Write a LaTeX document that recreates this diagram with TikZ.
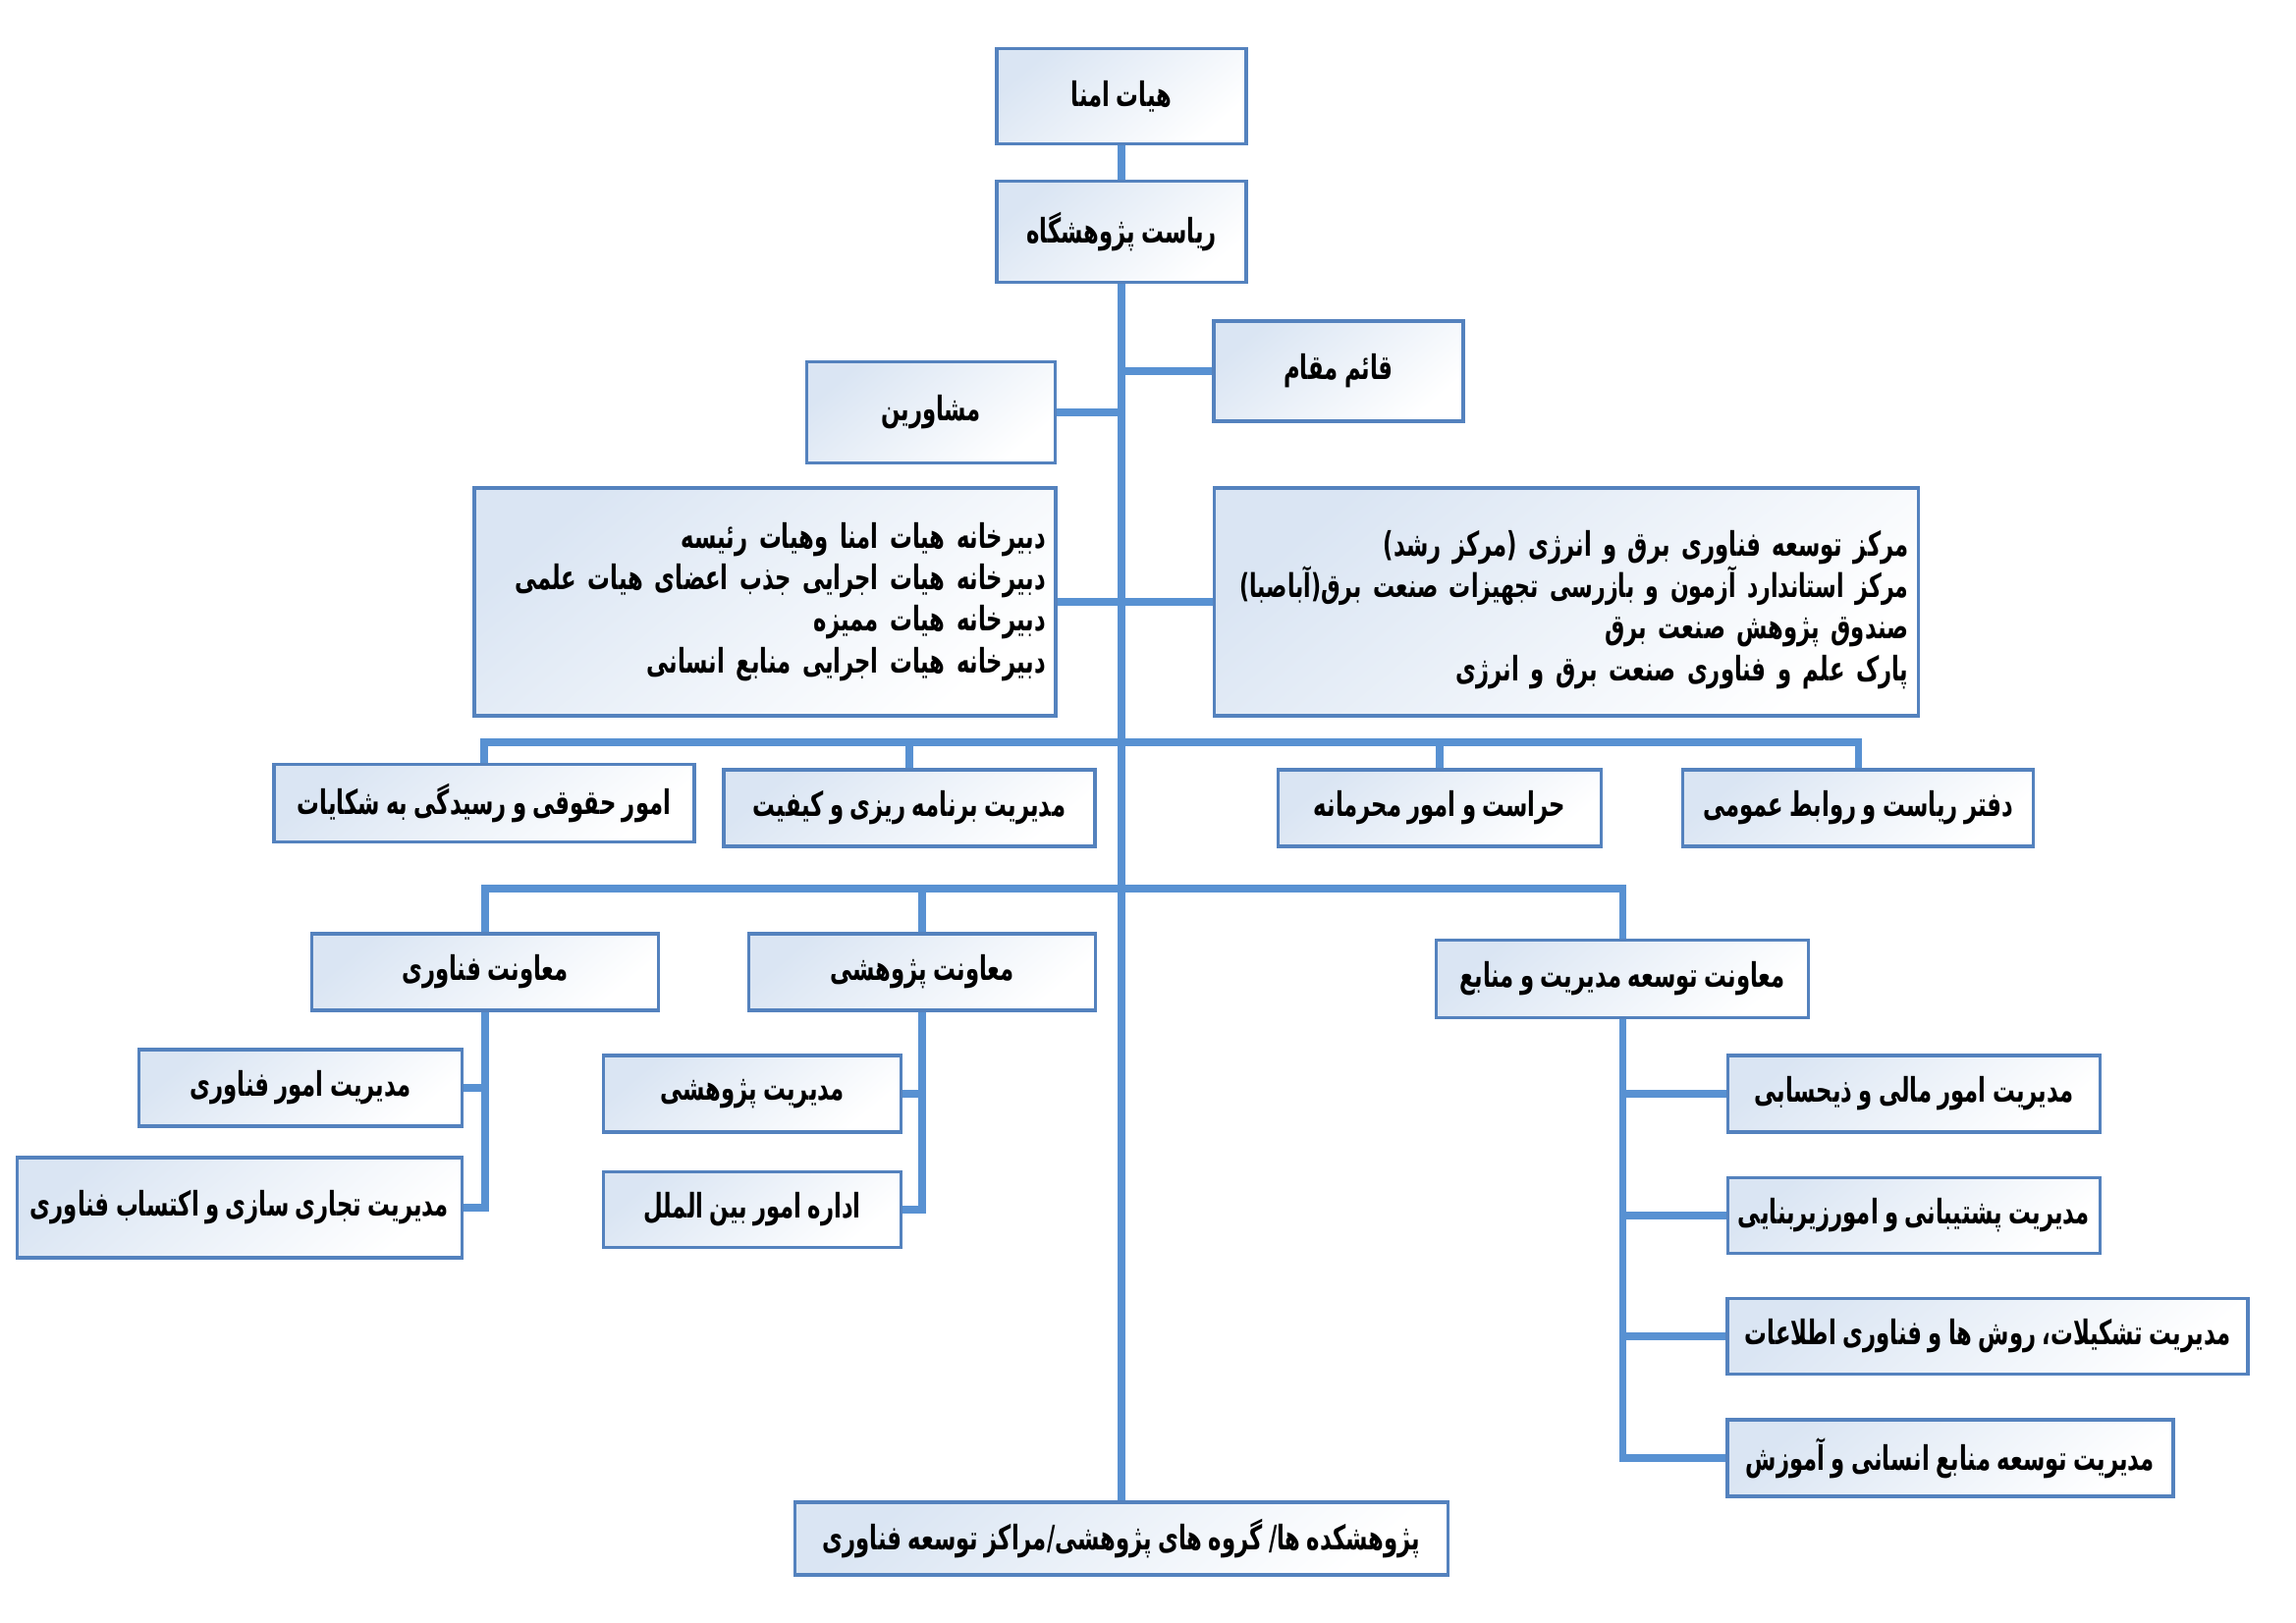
\documentclass[tikz,border=0pt]{standalone}
\usepackage{fontspec}
\newfontfamily\arabicfont[Script=Arabic, FakeStretch=0.66, WordSpace=0.8]{DejaVu Sans}
\TeXXeTstate=1
\usetikzlibrary{positioning, calc}
\definecolor{linkblue}{RGB}{88,145,210}
\definecolor{boxline}{RGB}{84,130,190}
\definecolor{boxfill}{RGB}{218,229,243}
\newcommand{\rtl}[1]{\beginR #1\endR}

\begin{document}
\begin{tikzpicture}[x=0.1mm, y=-0.1mm,
  unit/.style={draw=boxline, line width=1pt, top color=boxfill, bottom color=white, shading angle=40,
    inner sep=3pt, align=center, font=\arabicfont\bfseries\fontsize{9.8}{12}\selectfont},
  link/.style={draw=linkblue, line width=2pt}]
  \useasboundingbox (0,0) rectangle (2338,1653);

  \node[unit, minimum width=25.4mm, minimum height=9.7mm] (hayat) at (1142,98) {\rtl{هیات امنا}};
  \node[unit, minimum width=25.4mm, minimum height=10.3mm] (riasat) at (1142,236) {\rtl{ریاست پژوهشگاه}};
  \node[unit, minimum width=25.4mm, minimum height=10.2mm] (qaem) at (1363,378) {\rtl{قائم مقام}};
  \node[unit, minimum width=25.3mm, minimum height=10.3mm] (moshaverin) at (948,420) {\rtl{مشاورین}};
  \node[unit, text width=57.2mm, inner xsep=1mm, align=right, minimum height=23.2mm] (dabirkhane) at (779,613) {%
    \rtl{دبیرخانه هیات امنا وهیات رئیسه}\hspace*{0.6mm}\\
    \rtl{دبیرخانه هیات اجرایی جذب اعضای هیات علمی}\hspace*{0.6mm}\\
    \rtl{دبیرخانه هیات ممیزه}\\
    \rtl{دبیرخانه هیات اجرایی منابع انسانی}};
  \node[unit, text width=69.7mm, inner xsep=1mm, align=right, minimum height=23.2mm] (markaz) at (1595,613) {%
    \rule{0pt}{4.2mm}\rtl{مرکز توسعه فناوری برق و انرژی (مرکز رشد)}\\
    \makebox[69.7mm][r]{\fontsize{9.5}{12}\selectfont\rtl{مرکز استاندارد آزمون و بازرسی تجهیزات صنعت برق(آباصبا)}}\\
    \rtl{صندوق پژوهش صنعت برق}\\
    \rtl{پارک علم و فناوری صنعت برق و انرژی}};

  \node[unit, minimum width=42.8mm, minimum height=7.9mm] (hoqughi) at (493,818) {\rtl{امور حقوقی و رسیدگی به شکایات}};
  \node[unit, minimum width=37.8mm, minimum height=7.8mm] (barname) at (926,823) {\rtl{مدیریت برنامه ریزی و کیفیت}};
  \node[unit, minimum width=32.9mm, minimum height=7.8mm] (harasat) at (1466,823) {\rtl{حراست و امور محرمانه}};
  \node[unit, minimum width=35.7mm, minimum height=7.8mm] (daftar) at (1892,823) {\rtl{دفتر ریاست و روابط عمومی}};

  \node[unit, minimum width=35.3mm, minimum height=7.8mm] (fanavari) at (494,990) {\rtl{معاونت فناوری}};
  \node[unit, minimum width=35.3mm, minimum height=7.8mm] (pazhuheshi) at (939,990) {\rtl{معاونت پژوهشی}};
  \node[unit, minimum width=37.9mm, minimum height=7.9mm] (tosee) at (1652,997) {\rtl{معاونت توسعه مدیریت و منابع}};

  \node[unit, minimum width=32.9mm, minimum height=7.8mm] (mfan) at (306,1108) {\rtl{مدیریت امور فناوری}};
  \node[unit, minimum width=45.3mm, minimum height=10.2mm] (tejari) at (244,1230) {\rtl{مدیریت تجاری سازی و اکتساب فناوری}};
  \node[unit, minimum width=30.3mm, minimum height=7.8mm] (mpazh) at (766,1114) {\rtl{مدیریت پژوهشی}};
  \node[unit, minimum width=30.3mm, minimum height=7.7mm] (bein) at (766,1232) {\rtl{اداره امور بین الملل}};

  \node[unit, minimum width=37.9mm, minimum height=7.8mm] (mali) at (1949,1114) {\rtl{مدیریت امور مالی و ذیحسابی}};
  \node[unit, minimum width=37.9mm, minimum height=7.7mm] (poshtibani) at (1949,1238) {\rtl{مدیریت پشتیبانی و امورزیربنایی}};
  \node[unit, minimum width=53.0mm, minimum height=7.7mm] (tashkilat) at (2024,1361) {\rtl{مدیریت تشکیلات، روش ها و فناوری اطلاعات}};
  \node[unit, minimum width=45.4mm, minimum height=7.8mm] (ensani) at (1986,1485) {\rtl{مدیریت توسعه منابع انسانی و آموزش}};

  \node[unit, minimum width=66.5mm, minimum height=7.4mm] (pazhuheshkade) at (1142,1567) {\rtl{پژوهشکده ها/ گروه های پژوهشی/مراکز توسعه فناوری}};

  \coordinate (bus1) at (1142,756);
  \coordinate (bus2) at (1142,905);

  \draw[link] (hayat) -- (riasat);
  \draw[link] (riasat) -- (pazhuheshkade);
  \draw[link] (qaem) -- (qaem -| riasat);
  \draw[link] (moshaverin) -- (moshaverin -| riasat);
  \draw[link] (dabirkhane) -- (dabirkhane -| riasat);
  \draw[link] (markaz) -- (markaz -| riasat);

  \draw[link] (hoqughi) |- (bus1) -| (daftar);
  \draw[link] (barname) -- (barname |- bus1);
  \draw[link] (harasat) -- (harasat |- bus1);

  \draw[link] (fanavari) |- (bus2) -| (tosee);
  \draw[link] (pazhuheshi) -- (pazhuheshi |- bus2);

  \draw[link] (fanavari) |- (tejari);
  \draw[link] (mfan) -- (mfan -| fanavari);
  \draw[link] (pazhuheshi) |- (bein);
  \draw[link] (mpazh) -- (mpazh -| pazhuheshi);
  \draw[link] (tosee) |- (ensani);
  \draw[link] (mali) -- (mali -| tosee);
  \draw[link] (poshtibani) -- (poshtibani -| tosee);
  \draw[link] (tashkilat) -- (tashkilat -| tosee);
\end{tikzpicture}
\end{document}
